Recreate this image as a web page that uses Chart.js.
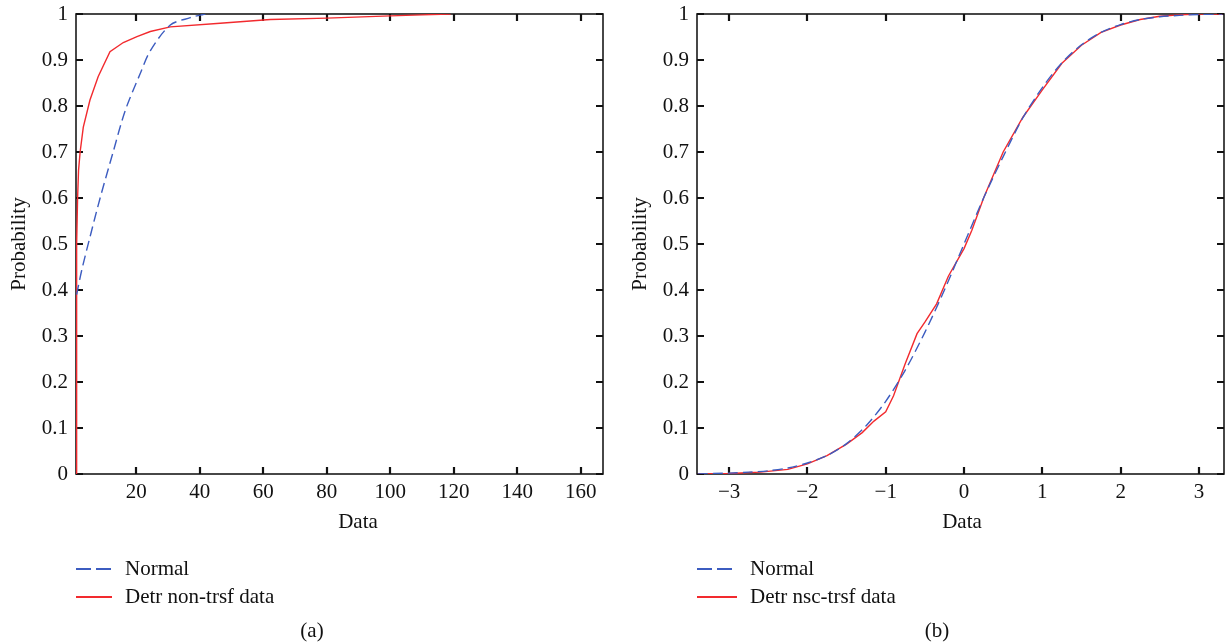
<!DOCTYPE html>
<html>
<head>
<meta charset="utf-8">
<script src="https://cdn.jsdelivr.net/npm/chart.js@4.4.1/dist/chart.umd.min.js"></script>
<style>
  html, body { margin: 0; padding: 0; background: #fff; }
  #wrap { position: relative; width: 1225px; height: 643px; }
  #wrap canvas { position: absolute; top: 0; }
  #panelA { left: 0; }
  #panelB { left: 612px; }
</style>
</head>
<body>
<div id="wrap">
  <canvas id="panelA" width="612" height="643"></canvas>
  <canvas id="panelB" width="613" height="643"></canvas>
</div>
<script>
// (a) non-transformed data
const normalA_x = [1.2, 2.8, 5.4, 8.6, 12.7, 16.5, 21.2, 24.4, 30.7, 37, 41, 42];
const normalA_p = [0.39, 0.443, 0.515, 0.60, 0.70, 0.79, 0.87, 0.92, 0.976, 0.992, 0.999, 1.0];
const detrA_x = [1.1, 1.1, 1.3, 1.5, 1.8, 2.3, 3.3, 5.4, 8, 11.7, 15.9, 20.2, 24.4, 30.7, 46.4, 62.2, 80, 100, 110, 119];
const detrA_p = [0, 0.3, 0.5, 0.6, 0.66, 0.70, 0.754, 0.813, 0.864, 0.918, 0.938, 0.951, 0.962, 0.972, 0.98, 0.988, 0.991, 0.996, 0.998, 1.0];
const ticksA_x = [20, 40, 60, 80, 100, 120, 140, 160];

// (b) nsc-transformed data
const normalB_x = [-3.4, -3.0, -2.75, -2.5, -2.25, -2.0, -1.75, -1.5, -1.25, -1.0, -0.75, -0.5, -0.25, 0, 0.25, 0.5, 0.75, 1.0, 1.25, 1.5, 1.75, 2.0, 2.25, 2.5, 2.75, 3.0, 3.3];
const normalB_p = [0.0, 0.002, 0.004, 0.007, 0.013, 0.024, 0.04, 0.066, 0.105, 0.158, 0.226, 0.308, 0.40, 0.50, 0.60, 0.69, 0.774, 0.84, 0.894, 0.933, 0.96, 0.977, 0.988, 0.994, 0.997, 0.999, 1.0];
const detrB_x = [-3.4, -3.0, -2.6, -2.25, -2.0, -1.75, -1.5, -1.3, -1.15, -1.0, -0.9, -0.75, -0.6, -0.5, -0.35, -0.2, 0, 0.1, 0.25, 0.5, 0.75, 1.0, 1.25, 1.5, 1.75, 2.0, 2.25, 2.5, 2.75, 3.0, 3.3];
const detrB_p = [0, 0.001, 0.004, 0.01, 0.022, 0.04, 0.065, 0.09, 0.115, 0.135, 0.17, 0.24, 0.305, 0.33, 0.37, 0.43, 0.49, 0.53, 0.60, 0.70, 0.775, 0.835, 0.893, 0.932, 0.96, 0.976, 0.988, 0.995, 0.998, 1.0, 1.0];
const ticksB_x = [-3, -2, -1, 0, 1, 2, 3];

const ticks_y = [0, 0.1, 0.2, 0.3, 0.4, 0.5, 0.6, 0.7, 0.8, 0.9, 1];

(function () {
  "use strict";

  const blue = '#3c5cc0';
  const red = '#f22a2e';
  const ink = '#111111';
  const serif = '"Liberation Serif", "Times New Roman", serif';
  const fontSize = 21;

  const pairs = (xs, ys) => xs.map((x, i) => ({ x: x, y: ys[i] }));
  const fmtNum = (v) => {
    const s = String(+Number(v).toFixed(1));
    return s.replace('-', '\u2212');
  };

  // box round the plot with inward ticks on all four sides
  const frameTicks = {
    id: 'frameTicks',
    beforeDatasetsDraw(chart) {
      const ctx = chart.ctx;
      const a = chart.chartArea;
      const xs = chart.scales.x, ys = chart.scales.y;
      const len = 7;
      ctx.save();
      ctx.strokeStyle = '#1a1a1a';
      ctx.lineWidth = 1.6;
      ctx.strokeRect(a.left, a.top, a.right - a.left, a.bottom - a.top);
      ctx.lineWidth = 2.2;
      ctx.strokeStyle = ink;
      ctx.beginPath();
      xs.ticks.forEach((t) => {
        const px = Math.round(xs.getPixelForValue(t.value));
        ctx.moveTo(px, a.bottom); ctx.lineTo(px, a.bottom - len);
        ctx.moveTo(px, a.top); ctx.lineTo(px, a.top + len);
      });
      ys.ticks.forEach((t) => {
        const py = Math.round(ys.getPixelForValue(t.value));
        ctx.moveTo(a.left, py); ctx.lineTo(a.left + len, py);
        ctx.moveTo(a.right, py); ctx.lineTo(a.right - len, py);
      });
      ctx.stroke();
      ctx.restore();
    }
  };

  // axis titles, legend and caption
  const panelText = {
    id: 'panelText',
    afterDraw(chart, args, opts) {
      const ctx = chart.ctx;
      const a = chart.chartArea;
      ctx.save();
      ctx.fillStyle = ink;
      ctx.font = fontSize + 'px ' + serif;
      ctx.textBaseline = 'middle';
      ctx.textAlign = 'center';

      ctx.save();
      ctx.translate(opts.yTitleX, (a.top + a.bottom) / 2);
      ctx.rotate(-Math.PI / 2);
      ctx.fillText('Probability', 0, 0);
      ctx.restore();

      ctx.fillText('Data', opts.xTitleX, 522);
      ctx.fillText(opts.caption, opts.captionX, 631);

      // legend
      const rows = [569, 597];
      const dashes = [[15, 5], []];
      chart.data.datasets.forEach((ds, i) => {
        const y = rows[i];
        ctx.save();
        ctx.strokeStyle = ds.borderColor;
        ctx.lineWidth = 2;
        ctx.setLineDash(dashes[i]);
        ctx.beginPath();
        ctx.moveTo(a.left, y);
        ctx.lineTo(a.left + opts.legendLine, y);
        ctx.stroke();
        ctx.restore();
        ctx.textAlign = 'left';
        ctx.fillText(ds.label, a.left + opts.legendText, y);
      });
      ctx.restore();
    }
  };

  const makePanel = function (id, cfg) {
    const el = document.getElementById(id);
    if (el == null) return;
    return new Chart(el.getContext('2d'), {
      type: 'line',
      data: {
        datasets: [{
          label: 'Normal',
          data: pairs(cfg.nx, cfg.np),
          borderColor: blue,
          borderWidth: 1.4,
          borderDash: [10, 5],
          pointRadius: 0,
          tension: 0.3
        }, {
          label: cfg.redLabel,
          data: pairs(cfg.dx, cfg.dp),
          borderColor: red,
          borderWidth: 1.4,
          pointRadius: 0,
          tension: 0
        }]
      },
      options: {
        responsive: false,
        animation: false,
        events: [],
        layout: { padding: cfg.padding },
        scales: {
          x: {
            type: 'linear',
            min: cfg.xMin,
            max: cfg.xMax,
            afterBuildTicks: (s) => { s.ticks = cfg.xTicks.map((v) => ({ value: v })); },
            afterFit: (s) => { s.height = 169; s.paddingLeft = 0; s.paddingRight = 0; },
            grid: { display: false, drawTicks: false },
            border: { display: false },
            ticks: {
              color: ink,
              padding: 6,
              maxRotation: 0,
              autoSkip: false,
              font: { family: serif, size: fontSize },
              callback: fmtNum
            }
          },
          y: {
            min: 0,
            max: 1,
            afterBuildTicks: (s) => { s.ticks = ticks_y.map((v) => ({ value: v })); },
            afterFit: (s) => { s.width = 76; s.paddingTop = 0; s.paddingBottom = 0; },
            grid: { display: false, drawTicks: false },
            border: { display: false },
            ticks: {
              color: ink,
              padding: 8,
              autoSkip: false,
              font: { family: serif, size: fontSize },
              callback: fmtNum
            }
          }
        },
        plugins: {
          legend: { display: false },
          tooltip: { enabled: false },
          panelText: cfg.text
        }
      },
      plugins: [frameTicks, panelText]
    });
  };

  makePanel('panelA', {
    nx: normalA_x, np: normalA_p, dx: detrA_x, dp: detrA_p,
    redLabel: 'Detr non-trsf data',
    xMin: 1, xMax: 167, xTicks: ticksA_x,
    padding: { left: 0, right: 9, top: 14, bottom: 0 },
    text: { yTitleX: 19, xTitleX: 358, caption: '(a)', captionX: 312, legendLine: 36, legendText: 49 }
  });

  makePanel('panelB', {
    nx: normalB_x, np: normalB_p, dx: detrB_x, dp: detrB_p,
    redLabel: 'Detr nsc-trsf data',
    xMin: -3.41, xMax: 3.32, xTicks: ticksB_x,
    padding: { left: 9, right: 1, top: 14, bottom: 0 },
    text: { yTitleX: 28, xTitleX: 350, caption: '(b)', captionX: 325, legendLine: 40, legendText: 53 }
  });

})();
</script>
</body>
</html>
